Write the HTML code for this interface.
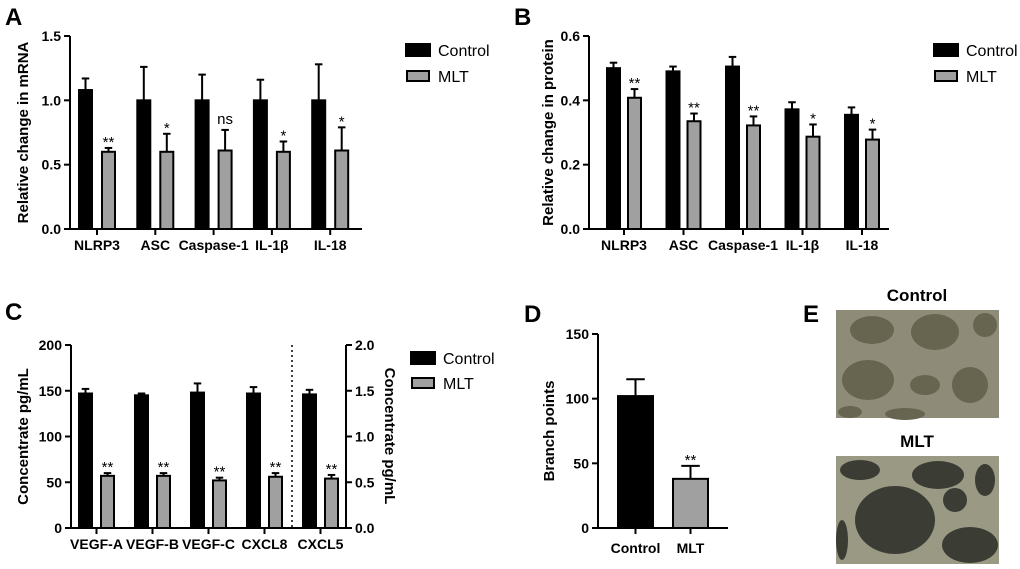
<!DOCTYPE html>
<html><head><meta charset="utf-8">
<style>
html,body{margin:0;padding:0;background:#fff;}
svg{display:block;font-family:"Liberation Sans",Arial,sans-serif;}
.t{font-weight:bold;font-size:14px;fill:#000;}
.at{font-weight:bold;font-size:15px;fill:#000;}
.lg{font-size:16px;fill:#000;}
.pl{font-weight:bold;font-size:24px;fill:#000;}
.st{font-size:15px;fill:#000;}
</style></head>
<body>
<svg id="fig" width="1020" height="569" viewBox="0 0 1020 569">
<text class="pl" x="5" y="25">A</text>
<text class="pl" x="514" y="25">B</text>
<text class="pl" x="5" y="320">C</text>
<text class="pl" x="524" y="322">D</text>
<text class="pl" x="803" y="322">E</text>
<g id="imgs">
<text x="917" y="301" text-anchor="middle" style="font-weight:bold;font-size:17px">Control</text>
<text x="917" y="447" text-anchor="middle" style="font-weight:bold;font-size:17px">MLT</text>
<g>
<rect x="836" y="310" width="163" height="108" fill="#8e8c78"/>
<g fill="#67654f">
<ellipse cx="872" cy="330" rx="22" ry="14"/><ellipse cx="935" cy="332" rx="24" ry="18"/>
<ellipse cx="985" cy="325" rx="12" ry="12"/><ellipse cx="868" cy="380" rx="26" ry="20"/>
<ellipse cx="925" cy="385" rx="15" ry="10"/><ellipse cx="970" cy="385" rx="18" ry="18"/>
<ellipse cx="850" cy="412" rx="12" ry="6"/><ellipse cx="905" cy="414" rx="20" ry="6"/>
</g></g>
<g>
<rect x="836" y="456" width="163" height="108" fill="#9a9a84"/>
<g fill="#3b3d35">
<ellipse cx="860" cy="470" rx="20" ry="10"/><ellipse cx="938" cy="475" rx="26" ry="14"/>
<ellipse cx="985" cy="480" rx="10" ry="16"/><ellipse cx="895" cy="520" rx="40" ry="34"/>
<ellipse cx="970" cy="545" rx="28" ry="18"/><ellipse cx="955" cy="500" rx="12" ry="12"/>
<ellipse cx="842" cy="540" rx="6" ry="20"/>
</g></g>
</g>
</svg>
<script>
// Panel A data
const catsA = ["NLRP3","ASC","Caspase-1","IL-1β","IL-18"];
const ctrlA = [1.08,1.00,1.00,1.00,1.00];
const ctrlErrA = [0.09,0.26,0.20,0.16,0.28];
const mltA = [0.60,0.60,0.61,0.60,0.61];
const mltErrA = [0.03,0.14,0.16,0.08,0.18];
const sigA = ["**","*","ns","*","*"];
const ticksA = [0,0.5,1.0,1.5];
const tickLabA = ["0.0","0.5","1.0","1.5"];
// Panel B data
const catsB = ["NLRP3","ASC","Caspase-1","IL-1β","IL-18"];
const ctrlB = [0.50,0.49,0.505,0.372,0.355];
const ctrlErrB = [0.017,0.015,0.03,0.022,0.023];
const mltB = [0.408,0.335,0.322,0.287,0.278];
const mltErrB = [0.027,0.024,0.028,0.038,0.031];
const sigB = ["**","**","**","*","*"];
const ticksB = [0,0.2,0.4,0.6];
const tickLabB = ["0.0","0.2","0.4","0.6"];
// Panel C data (CXCL5 on right axis, 0-2)
const catsC = ["VEGF-A","VEGF-B","VEGF-C","CXCL8","CXCL5"];
const ctrlC = [147,145,148,147,1.46];
const ctrlErrC = [5,2,10,7,0.05];
const mltC = [57,57,52,56,0.54];
const mltErrC = [3,3,3,4,0.04];
const sigC = ["**","**","**","**","**"];
const ticksC = [0,50,100,150,200];
const tickLabC = ["0","50","100","150","200"];
const ticksCR = [0,0.5,1.0,1.5,2.0];
const tickLabCR = ["0.0","0.5","1.0","1.5","2.0"];
// Panel D data
const catsD = ["Control","MLT"];
const valsD = [102,38];
const errD = [13,10];
const sigD = ["","**"];
const ticksD = [0,50,100,150];
const tickLabD = ["0","50","100","150"];

const NS="http://www.w3.org/2000/svg";
const svg=document.getElementById('fig');
function el(tag,attrs,parent){const e=document.createElementNS(NS,tag);for(const k in attrs)e.setAttribute(k,attrs[k]);(parent||svg).appendChild(e);return e;}
function txt(s,attrs,parent){const e=el('text',attrs,parent);e.textContent=s;return e;}

function bar(g,x,w,v,err,y,fill,sig){
  const yt=y(v), yb=y(0), ye=y(v+err), cx=x+w/2;
  const eb=el('line',{x1:cx,x2:cx,y1:yt,y2:ye,stroke:'#000','stroke-width':2},g);
  
  
  const cap=el('line',{x1:cx-w/4,x2:cx+w/4,y1:ye,y2:ye,stroke:'#000','stroke-width':2},g);
  
  
  const r=el('rect',{x:x+1,y:yt,width:w-2,height:yb-yt,fill:fill,stroke:'#000','stroke-width':2},g);
  
  
  if(sig){const t=txt(sig,{x:cx,y:ye-(sig==='ns'?6:1),'text-anchor':'middle',class:'st'},g);
    
    }
}
function yaxis(g,ax,y,ticks,labs,side){
  const l=el('line',{x1:ax,x2:ax,y1:y(ticks[ticks.length-1]),y2:y(0)+1,stroke:'#000','stroke-width':2},g);
  
  
  ticks.forEach((t,i)=>{
    el('line',{x1:ax,x2:side>0?ax+6:ax-6,y1:y(t),y2:y(t),stroke:'#000','stroke-width':2},g);
    const tl=txt(labs[i],{x:side>0?ax+9:ax-9,y:y(t)+5,'text-anchor':side>0?'start':'end',class:'t'},g);
    
    
  });
}
function legend(g,x,y1,y2){
  const a=el('rect',{x:x,y:y1-6,width:24,height:12,fill:'#000',stroke:'#000','stroke-width':2},g);
  
  
  const t1=txt('Control',{x:x+32,y:y1+6,class:'lg'},g);
  
  
  const b=el('rect',{x:x+1,y:y2-5,width:22,height:10,fill:'#a0a0a0',stroke:'#000','stroke-width':2},g);
  
  
  const t2=txt('MLT',{x:x+32,y:y2+6,class:'lg'},g);
  
  
}
function grouped(name,cats,ctrl,cErr,mlt,mErr,sig,ticks,labs,o){
  const g=el('g',{});
  
  
  const y=v=>o.y0-(v/o.max)*(o.y0-o.yTop);
  yaxis(g,o.ax,y,ticks,labs,-1);
  el('line',{x1:o.ax-1,x2:o.axEnd,y1:o.y0,y2:o.y0,stroke:'#000','stroke-width':2},g);
  cats.forEach((c,i)=>{
    const x=o.x0+i*o.pitch;
    let yy=y;
    if(o.rightFrom!==undefined && i>=o.rightFrom){yy=v=>o.y0-(v/o.rmax)*(o.y0-o.yTop);}
    bar(g,x,o.bw,ctrl[i],cErr[i],yy,'#000','');
    bar(g,x+o.gap,o.bw,mlt[i],mErr[i],yy,'#a0a0a0',sig[i]);
    const tc=x+(o.gap+o.bw)/2;
    el('line',{x1:tc,x2:tc,y1:o.y0,y2:o.y0+6,stroke:'#000','stroke-width':2},g);
    const tl=txt(c,{x:tc,y:o.y0+21,'text-anchor':'middle',class:'t'},g);
    
    
  });
  const yt=txt(o.title,{x:0,y:0,'text-anchor':'middle',class:'at',transform:`translate(${o.tx},${(o.y0+o.yTop)/2}) rotate(-90)`},g);
  
  
  legend(g,o.lx,o.ly1,o.ly2);
  return {g,y};
}
grouped('panel-a-chart',catsA,ctrlA,ctrlErrA,mltA,mltErrA,sigA,ticksA,tickLabA,
 {ax:70,axEnd:362,y0:229,yTop:36,max:1.5,x0:78,pitch:58.3,bw:15,gap:23,tx:28,title:'Relative change in mRNA',lx:406,ly1:50,ly2:76});
grouped('panel-b-chart',catsB,ctrlB,ctrlErrB,mltB,mltErrB,sigB,ticksB,tickLabB,
 {ax:589,axEnd:889,y0:229,yTop:36,max:0.6,x0:606,pitch:59.5,bw:15,gap:21,tx:553,title:'Relative change in protein',lx:934,ly1:50,ly2:76});
const C=grouped('panel-c-chart',catsC,ctrlC,ctrlErrC,mltC,mltErrC,sigC,ticksC,tickLabC,
 {ax:71,axEnd:346,y0:528,yTop:345,max:200,rmax:2,rightFrom:4,x0:78,pitch:56,bw:15,gap:22,tx:28,title:'Concentrate pg/mL',lx:411,ly1:358,ly2:383});
(function(){
  const g=C.g;
  const yr=v=>528-(v/2)*(528-345);
  yaxis(g,346,yr,ticksCR,tickLabCR,1);
  const dl=el('line',{x1:292,x2:292,y1:345,y2:528,stroke:'#000','stroke-width':1.5,'stroke-dasharray':'2,3'},g);
  
  
  const rt=txt('Concentrate pg/mL',{x:0,y:0,'text-anchor':'middle',class:'at',transform:'translate(385,436) rotate(90)'},g);
  
  
})();
(function(){
  const g=el('g',{});
  
  
  const y=v=>528-(v/150)*(528-334);
  yaxis(g,598,y,ticksD,tickLabD,-1);
  el('line',{x1:597,x2:728,y1:528,y2:528,stroke:'#000','stroke-width':2},g);
  const fills=['#000','#a0a0a0'];
  catsD.forEach((c,i)=>{
    const x=617+i*55;
    bar(g,x,37,valsD[i],errD[i],y,fills[i],sigD[i]);
    el('line',{x1:x+18.5,x2:x+18.5,y1:528,y2:534,stroke:'#000','stroke-width':2},g);
    const tl=txt(c,{x:x+18.5,y:553,'text-anchor':'middle',class:'t'},g);
    
    
  });
  const yt=txt('Branch points',{x:0,y:0,'text-anchor':'middle',class:'at',transform:'translate(554,431) rotate(-90)'},g);
  
  
})();
</script>
</body></html>
